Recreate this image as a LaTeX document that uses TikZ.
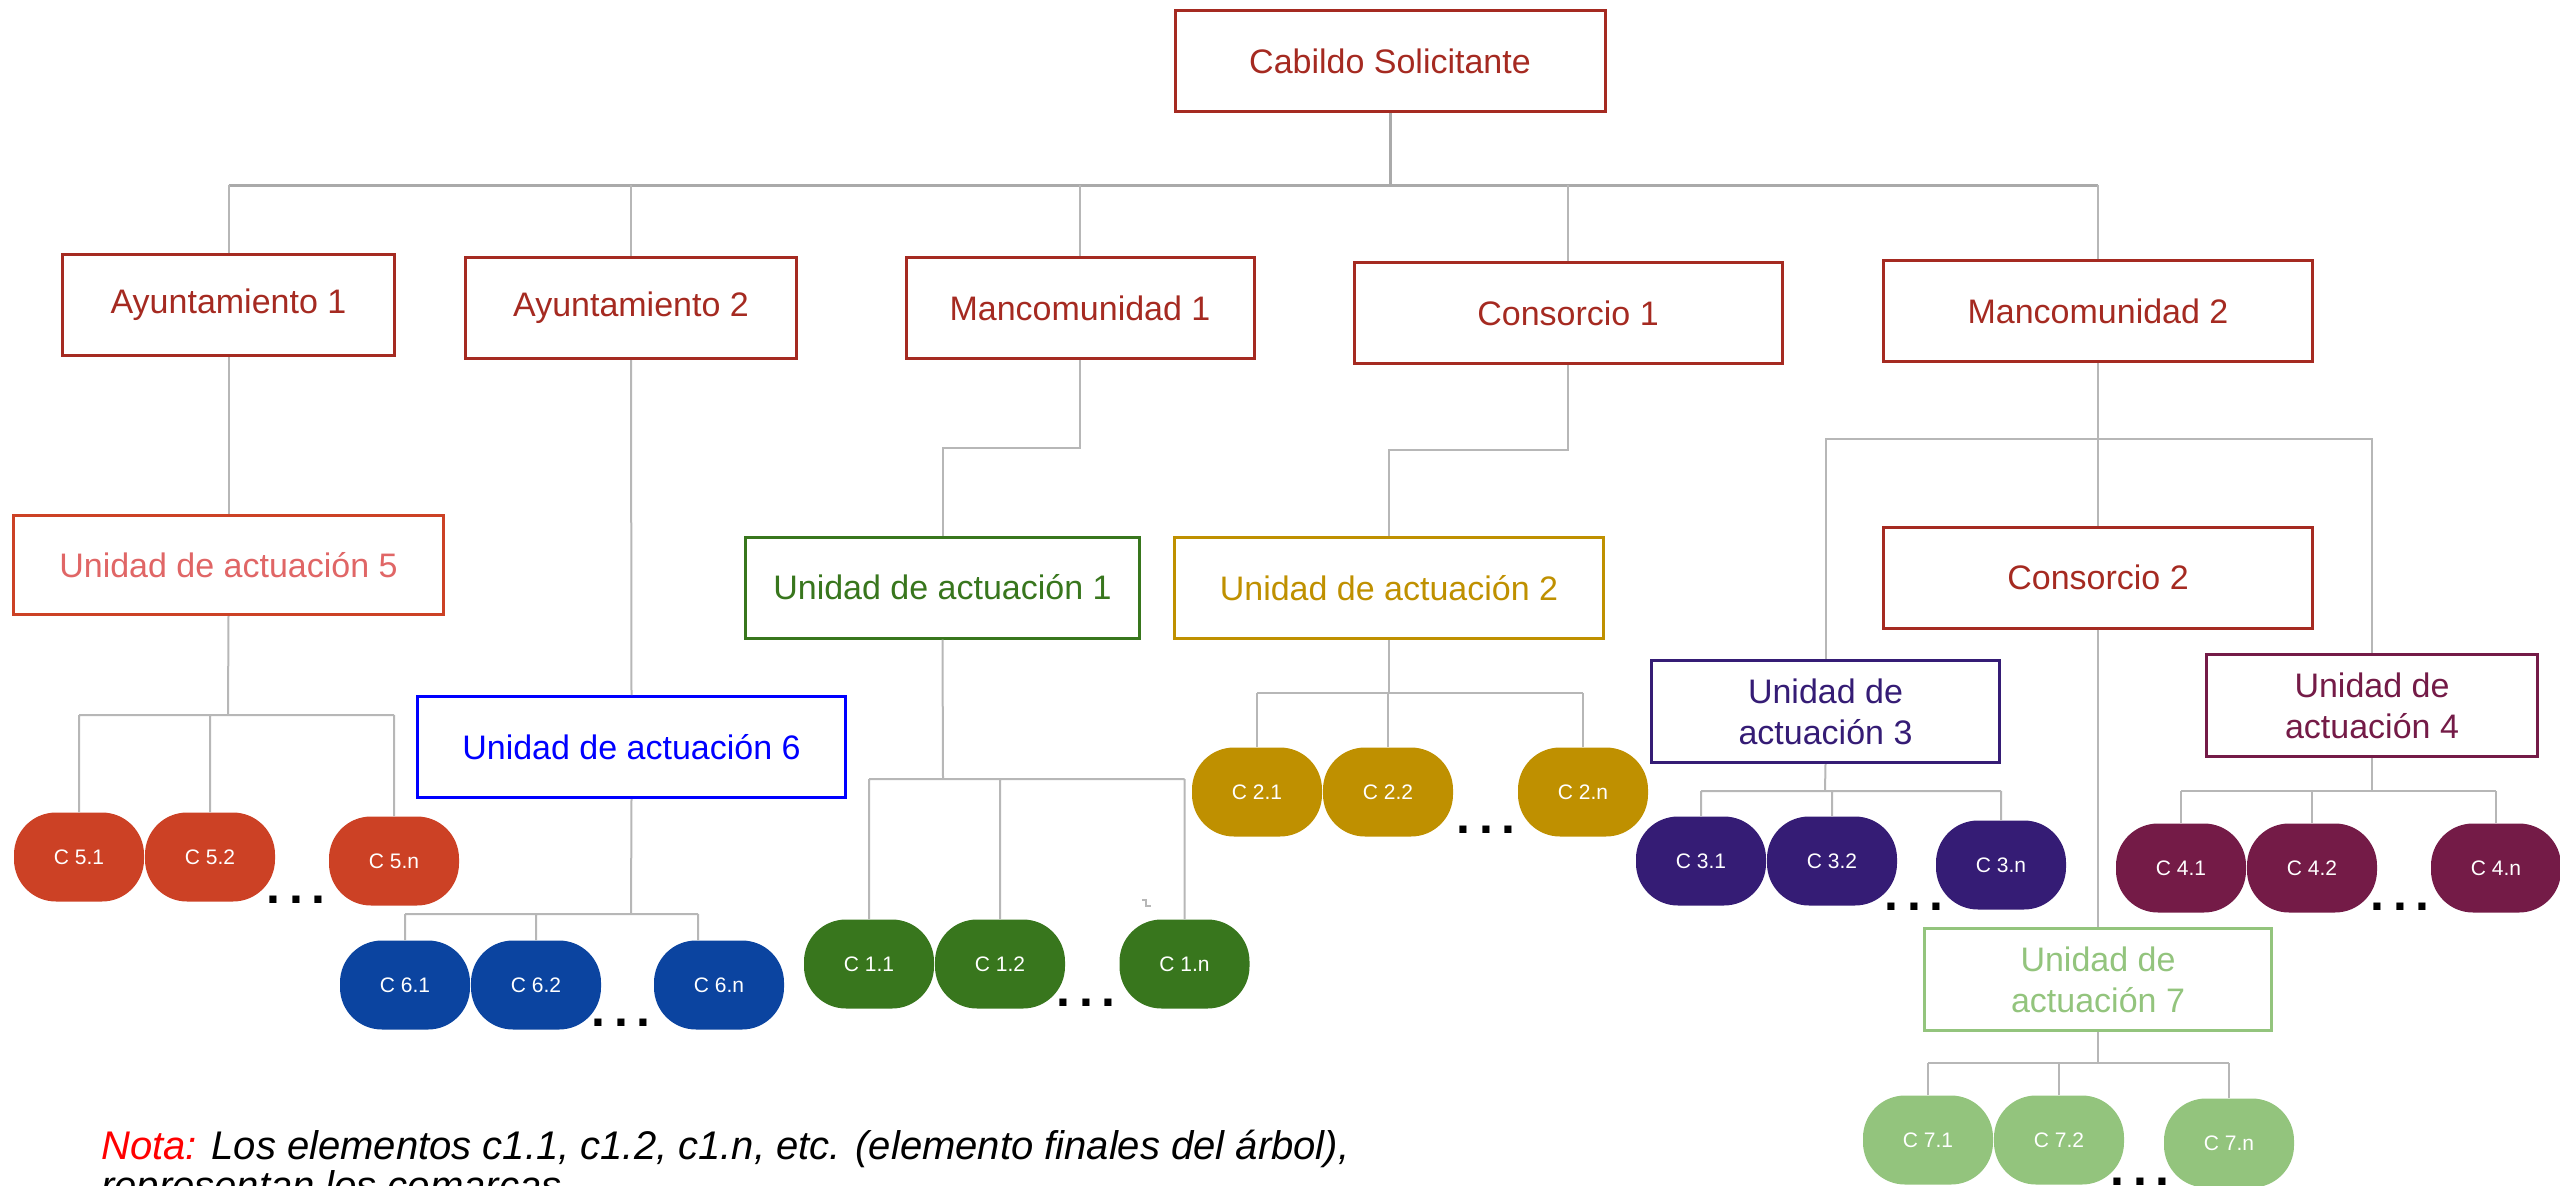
\documentclass[tikz,border=0pt]{standalone}
\usepackage{fontspec}
\setmainfont{Liberation Sans}
\usetikzlibrary{calc,positioning}
\definecolor{color_box_red}{HTML}{a52a21}
\definecolor{color_ua5_line}{HTML}{cc4125}
\definecolor{color_ua5_text}{HTML}{e06666}
\definecolor{color_ua6}{HTML}{0000ff}
\definecolor{color_green}{HTML}{38761d}
\definecolor{color_gold}{HTML}{bf9000}
\definecolor{color_purple}{HTML}{351c75}
\definecolor{color_wine}{HTML}{741b47}
\definecolor{color_light_green}{HTML}{93c47d}
\definecolor{color_orange_red}{HTML}{cc4125}
\definecolor{color_dark_blue}{HTML}{0b44a0}
\definecolor{color_line}{HTML}{b7b7b7}
\definecolor{color_bus}{HTML}{aaaaaa}
\definecolor{color_nota}{HTML}{ff0000}

\newcommand{\moredots}{{\fontsize{50}{50}\selectfont\bfseries .\hspace{9pt}.\hspace{9pt}.}}

\tikzset{
	unitbox/.style={draw=#1, text=#1, line width=3pt, minimum height=101pt, inner sep=0pt,
		align=center, font=\fontsize{34}{41}\selectfont},
	leaf/.style={fill=#1, text=white, rounded corners=42pt, minimum width=130pt,
		minimum height=89pt, inner sep=0pt, font=\fontsize{21}{25}\selectfont},
	etcmark/.style={inner sep=0pt, text=black},
	linkline/.style={color_line, line width=2pt},
	busline/.style={color_bus, line width=3pt},
	notetext/.style={anchor=base west, inner sep=0pt, font=\fontsize{40}{46}\selectfont\itshape},
}

\begin{document}
\begin{tikzpicture}[x=1pt,y=-1pt]
				\useasboundingbox (0, 0) rectangle (2560, 1186);
				% Upper level
				\node[unitbox=color_box_red, minimum width=430pt] (cab) at (1390, 61) {Cabildo Solicitante};
				\node[unitbox=color_box_red, minimum width=332pt] (ayu1) at (228.5, 305) {Ayuntamiento 1};
				\node[unitbox=color_box_red, minimum width=331pt] (ayu2) at (631, 308) {Ayuntamiento 2};
				\node[unitbox=color_box_red, minimum width=348pt] (man1) at (1080, 308) {Mancomunidad 1};
				\node[unitbox=color_box_red, minimum width=428pt] (con1) at (1568, 313) {Consorcio 1};
				\node[unitbox=color_box_red, minimum width=429pt] (man2) at (2098, 311) {Mancomunidad 2};
				\node[unitbox=color_box_red, minimum width=429pt] (con2) at (2098, 577.5) {Consorcio 2};
		
				% Unidades de actuacion
				\node[unitbox=color_ua5_line, text=color_ua5_text, minimum width=430pt, minimum height=99pt]
					(ua5) at (228.5, 565) {Unidad de actuación 5};
				\node[unitbox=color_ua6, minimum width=428pt] (ua6) at (631.5, 747) {Unidad de actuación 6};
				\node[unitbox=color_green, minimum width=394pt] (ua1) at (942.5, 587.5) {Unidad de actuación 1};
				\node[unitbox=color_gold, minimum width=429pt] (ua2) at (1389, 588) {Unidad de actuación 2};
				\node[unitbox=color_purple, minimum width=348pt, minimum height=102pt]
					(ua3) at (1825.5, 711.5) {Unidad de\\actuación 3};
				\node[unitbox=color_wine, minimum width=331pt, minimum height=102pt]
					(ua4) at (2372, 705.5) {Unidad de\\actuación 4};
				\node[unitbox=color_light_green, minimum width=347pt, minimum height=102pt]
					(ua7) at (2098, 979.5) {Unidad de\\actuación 7};
		
				% Comarcas
				\node[leaf=color_orange_red] (c51) at (79, 857) {C 5.1};
				\node[leaf=color_orange_red] (c52) at (210, 857) {C 5.2};
				\node[leaf=color_orange_red] (c5n) at (394, 861) {C 5.n};
				\node[leaf=color_dark_blue] (c61) at (405, 985) {C 6.1};
				\node[leaf=color_dark_blue] (c62) at (536, 985) {C 6.2};
				\node[leaf=color_dark_blue] (c6n) at (719, 985) {C 6.n};
				\node[leaf=color_green] (c11) at (869, 964) {C 1.1};
				\node[leaf=color_green] (c12) at (1000, 964) {C 1.2};
				\node[leaf=color_green] (c1n) at (1184.5, 964) {C 1.n};
				\node[leaf=color_gold] (c21) at (1257, 792) {C 2.1};
				\node[leaf=color_gold] (c22) at (1388, 792) {C 2.2};
				\node[leaf=color_gold] (c2n) at (1583, 792) {C 2.n};
				\node[leaf=color_purple] (c31) at (1701, 861) {C 3.1};
				\node[leaf=color_purple] (c32) at (1832, 861) {C 3.2};
				\node[leaf=color_purple] (c3n) at (2001, 865) {C 3.n};
				\node[leaf=color_wine] (c41) at (2181, 868) {C 4.1};
				\node[leaf=color_wine] (c42) at (2312, 868) {C 4.2};
				\node[leaf=color_wine] (c4n) at (2496, 868) {C 4.n};
				\node[leaf=color_light_green] (c71) at (1928, 1140) {C 7.1};
				\node[leaf=color_light_green] (c72) at (2059, 1140) {C 7.2};
				\node[leaf=color_light_green] (c7n) at (2229, 1143) {C 7.n};
		
				% Dots
				\node[etcmark] (etc5) at (296, 900) {\moredots};
				\node[etcmark] (etc6) at (621, 1023) {\moredots};
				\node[etcmark] (etc1) at (1086, 1003) {\moredots};
				\node[etcmark] (etc2) at (1486, 830) {\moredots};
				\node[etcmark] (etc3) at (1914, 907) {\moredots};
				\node[etcmark] (etc4) at (2400, 907) {\moredots};
				\node[etcmark] (etc7) at (2140, 1182) {\moredots};
		
				% Bus points
				\coordinate (topbus) at (1390, 185);
				\coordinate (m2bus) at (2098, 439);
				\coordinate (bus5) at (228, 715);
				\coordinate (bus6) at (631, 914);
				\coordinate (bus1) at (943, 779);
				\coordinate (bus2) at (1389, 693);
				\coordinate (bus3) at (1825, 791);
				\coordinate (bus4) at (2372, 791);
				\coordinate (bus7) at (2098, 1063);
				\coordinate (c6ndrop) at ($(c6n.north)+(-21, 0)$);
		
				% Main bus
				\draw[busline] (cab.south) -- (cab.south |- topbus);
				\draw[busline] (ayu1.north |- topbus) -- (man2.north |- topbus);
				\draw[linkline]
					(ayu1.north) -- (ayu1.north |- topbus)
					(ayu2.north) -- (ayu2.north |- topbus)
					(man1.north) -- (man1.north |- topbus)
					(con1.north) -- (con1.north |- topbus)
					(man2.north) -- (man2.north |- topbus)
					;
		
				% Down to the units
				\draw[linkline] (ayu1.south) -- (ua5.north);
				\draw[linkline] (ayu2.south) -- (ua6.north);
				\draw[linkline] (man1.south) -- ++(0, 88) -| (ua1.north);
				\draw[linkline] (con1.south) -- ++(0, 85) -| (ua2.north);
				\draw[linkline] (man2.south) -- (con2.north);
				\draw[linkline] (ua3.north) -- (ua3.north |- m2bus) -- (ua4.north |- m2bus) -- (ua4.north);
				\draw[linkline] (con2.south) -- (ua7.north);
		
				% Down to the comarcas
				\draw[linkline] (ua5.south) -- (bus5)
					(c51.north |- bus5) -- (c5n.north |- bus5)
					(c51.north) -- (c51.north |- bus5)
					(c52.north) -- (c52.north |- bus5)
					(c5n.north) -- (c5n.north |- bus5)
					;
				\draw[linkline] (ua6.south) -- (bus6)
					(c61.north |- bus6) -- (c6ndrop |- bus6)
					(c61.north) -- (c61.north |- bus6)
					(c62.north) -- (c62.north |- bus6)
					(c6ndrop) -- (c6ndrop |- bus6)
					;
				\draw[linkline] (ua1.south) -- (bus1)
					(c11.north |- bus1) -- (c1n.north |- bus1)
					(c11.north) -- (c11.north |- bus1)
					(c12.north) -- (c12.north |- bus1)
					(c1n.north) -- (c1n.north |- bus1)
					;
				\draw[linkline] (ua2.south) -- (bus2)
					(c21.north |- bus2) -- (c2n.north |- bus2)
					(c21.north) -- (c21.north |- bus2)
					(c22.north) -- (c22.north |- bus2)
					(c2n.north) -- (c2n.north |- bus2)
					;
				\draw[linkline] (ua3.south) -- (bus3)
					(c31.north |- bus3) -- (c3n.north |- bus3)
					(c31.north) -- (c31.north |- bus3)
					(c32.north) -- (c32.north |- bus3)
					(c3n.north) -- (c3n.north |- bus3)
					;
				\draw[linkline] (ua4.south) -- (bus4)
					(c41.north |- bus4) -- (c4n.north |- bus4)
					(c41.north) -- (c41.north |- bus4)
					(c42.north) -- (c42.north |- bus4)
					(c4n.north) -- (c4n.north |- bus4)
					;
				\draw[linkline] (ua7.south) -- (bus7)
					(c71.north |- bus7) -- (c7n.north |- bus7)
					(c71.north) -- (c71.north |- bus7)
					(c72.north) -- (c72.north |- bus7)
					(c7n.north) -- (c7n.north |- bus7)
					;
		
				% Stray mark
				\draw[color_line, line width=1.2pt] (1142, 900) -- (1146, 900) -- (1146, 906) -- (1151, 906);
		
				% Nota
				\node[notetext] (nota) at (101, 1159)
					{\textcolor{color_nota}{Nota:} Los elementos c1.1, c1.2, c1.n, etc. (elemento finales del árbol),};
				\node[notetext] (nota2) at ($(nota.base west)+(0, 40)$) {representan los comarcas.};
			\end{tikzpicture}
\end{document}
